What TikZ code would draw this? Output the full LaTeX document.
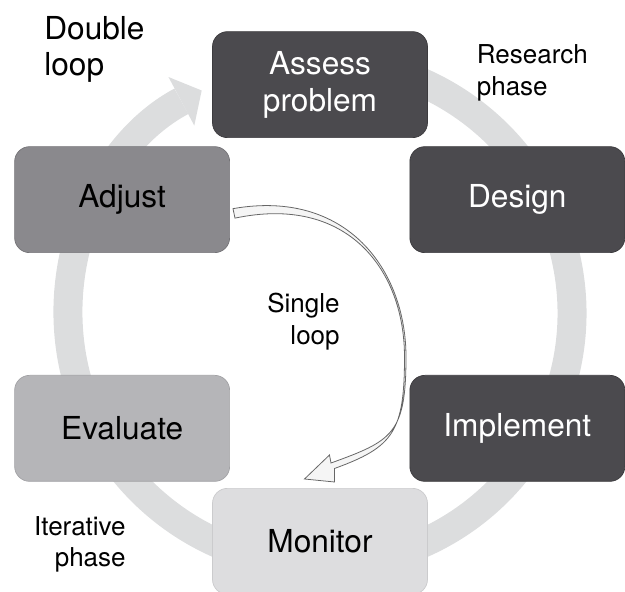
\documentclass[tikz,border=0pt]{standalone}
\usepackage{fontspec}
\setmainfont{TeX Gyre Heros}
\usepackage{xcolor}
\usepackage[]{tikz}
\usetikzlibrary{positioning,calc}
\usetikzlibrary{arrows.meta}
\definecolor{boxDark}{HTML}{4B4A4E}
\definecolor{boxMid}{HTML}{8A898D}
\definecolor{boxLight}{HTML}{B5B5B8}
\definecolor{boxPale}{HTML}{DDDDDF}
\definecolor{ringGray}{HTML}{DCDDDE}
\tikzstyle{stage}      =[rectangle, rounded corners=0.3cm, minimum width=4.3cm, minimum height=2.12cm, align=center, font=\fontsize{18}{21}\selectfont, line width=0.4pt]
\tikzstyle{stageDark}  =[stage, fill=boxDark,  draw=boxDark!80!black, text=white]
\tikzstyle{stageMid}   =[stage, fill=boxMid,   draw=boxMid!85!black]
\tikzstyle{stageLight} =[stage, fill=boxLight, draw=boxLight!90!black]
\tikzstyle{stagePale}  =[stage, fill=boxPale,  draw=boxPale!92!black]
\tikzstyle{phaseText}  =[inner sep=0pt, font=\fontsize{14.8}{17.8}\selectfont]
\tikzstyle{loopText}   =[inner sep=0pt, align=left, font=\fontsize{18}{20.5}\selectfont]
\tikzstyle{ringArc}    =[ringGray, line width=0.58cm, -{Triangle[width=1.1cm, length=0.46cm, line width=0pt]}]
\tikzstyle{singleArrow}=[fill=gray!8, draw=black!60, line width=0.45pt, line join=miter]

\begin{document}
\begin{tikzpicture}[]
      \useasboundingbox (-6.40,-5.58) rectangle (6.10,6.26);
      \coordinate (c) at (0,0);
      \draw[ringArc] (c) ++(100:5.04) arc[start angle=100, end angle=-242, radius=5.04];
      \node[stageDark] (assess) [above = 3.50cm of c] {Assess\\problem};
      \node[stageDark] (design) [above right = 1.20cm and 1.79cm of c] {Design};
      \node[stageDark] (implement) [below right = 1.24cm and 1.79cm of c] {Implement};
      \node[stagePale] (monitor) [below = 3.50cm of c] {Monitor};
      \node[stageLight] (evaluate) [below left = 1.24cm and 1.80cm of c] {Evaluate};
      \node[stageMid] (adjust) [above left = 1.20cm and 1.80cm of c] {Adjust};
      % single loop: tapered arrow from adjust to monitor
      \coordinate (slTop) at ([shift={(0.06,-0.18)}]adjust.east);
      \coordinate (slBot) at ([shift={(0.10,-0.37)}]adjust.east);
      \coordinate (turnOut) at (1.72,-0.88);
      \coordinate (turnIn) at (1.69,-0.88);
      \coordinate (headOut) at ([shift={(0.22,0.50)}]monitor.north);
      \coordinate (headIn) at ([shift={(0.29,0.39)}]monitor.north);
      \coordinate (wingUp) at ([shift={(0.19,0.66)}]monitor.north);
      \coordinate (wingLow) at ([shift={(0.29,0.12)}]monitor.north);
      \coordinate (tip) at ([shift={(-0.31,0.18)}]monitor.north);
      \draw[singleArrow] (slTop) .. controls +(10:2.3) and +(90:1.75) .. (turnOut)
        .. controls +(-90:1.55) and +(20:1.3) .. (headOut) -- (wingUp) -- (tip) -- (wingLow) -- (headIn)
        .. controls +(20:1.25) and +(-90:1.5) .. (turnIn)
        .. controls +(90:1.74) and +(12:2.3) .. (slBot) -- cycle;
      \node[loopText, anchor=north west] (double) at (-5.52,5.93) {Double\\loop};
      \node[phaseText, align=left, anchor=north west] (research) at (3.13,5.37) {Research\\phase};
      \node[phaseText, align=right, anchor=north east] (single) at (0.40,0.40) {Single\\loop};
      \node[phaseText, align=right, anchor=north east] (iterative) at (-3.88,-4.06) {Iterative\\phase};
    \end{tikzpicture}
\end{document}
